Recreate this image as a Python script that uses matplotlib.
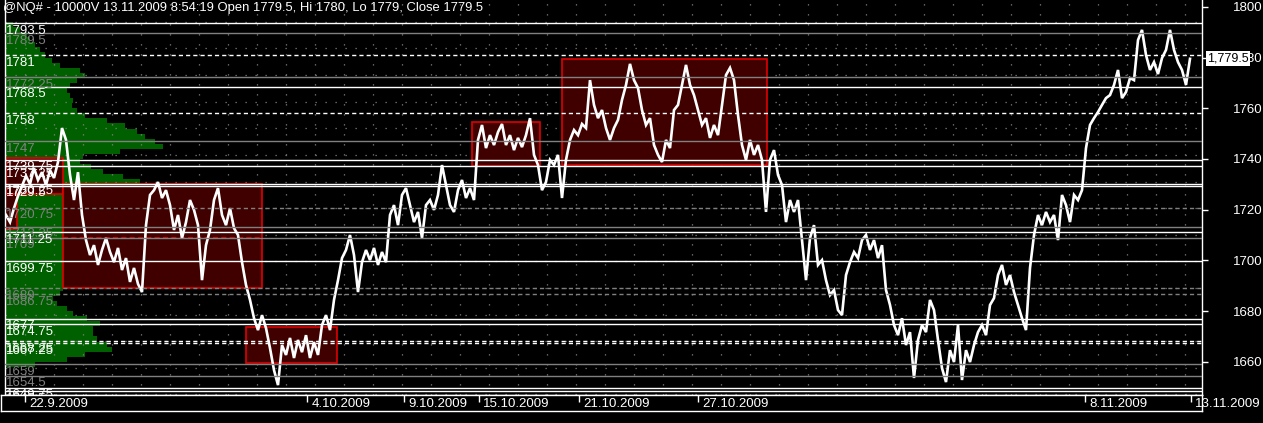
import numpy as np
import matplotlib
matplotlib.use("Agg")
import matplotlib.pyplot as plt
from matplotlib.patches import Rectangle

plt.rcParams['font.family'] = ['Liberation Sans', 'DejaVu Sans']

# --- data ---
title = "@NQ# - 10000V 13.11.2009 8:54:19 Open 1779.5, Hi 1780, Lo 1779, Close 1779.5"

# close of each 10000-volume bar (one value per bar)
close = [
    1717.9, 1715.1, 1720.6, 1725.4, 1729.3, 1733.3, 1730.1, 1736.4, 1731.7, 1734.8,
    1729.7, 1735.6, 1732.5, 1738.8, 1752.2, 1747.5, 1733.7, 1723.8, 1734.8, 1717.9,
    1708.0, 1702.1, 1706.0, 1698.2, 1704.1, 1708.8, 1703.3, 1699.3, 1704.9, 1696.2,
    1700.9, 1691.5, 1697.0, 1690.7, 1687.5, 1713.9, 1725.8, 1727.7, 1730.9, 1724.6,
    1727.7, 1721.8, 1712.0, 1717.9, 1708.8, 1715.1, 1723.8, 1719.9, 1713.9, 1692.2,
    1706.0, 1712.0, 1723.8, 1728.5, 1717.9, 1713.9, 1720.6, 1712.7, 1710.0, 1699.3,
    1690.3, 1684.4, 1677.2, 1672.5, 1678.4, 1673.3, 1665.4, 1656.7, 1650.8, 1666.6,
    1662.7, 1669.4, 1661.5, 1668.6, 1663.8, 1670.5, 1661.5, 1667.8, 1662.7, 1674.5,
    1678.4, 1672.5, 1684.4, 1692.2, 1700.9, 1704.1, 1710.0, 1702.1, 1687.5, 1699.3,
    1704.1, 1700.1, 1704.9, 1698.2, 1703.3, 1699.3, 1717.9, 1721.8, 1713.9, 1725.8,
    1728.5, 1721.8, 1715.1, 1719.1, 1708.8, 1721.8, 1723.8, 1719.9, 1725.8, 1737.6,
    1729.7, 1721.8, 1719.1, 1727.7, 1731.7, 1724.6, 1728.5, 1723.8, 1747.5, 1753.4,
    1744.3, 1749.4, 1745.5, 1750.6, 1753.8, 1745.5, 1749.4, 1743.5, 1748.3, 1744.7,
    1749.4, 1756.1, 1741.6, 1737.6, 1727.7, 1730.9, 1739.6, 1737.6, 1741.6, 1724.6,
    1739.6, 1747.5, 1751.4, 1749.4, 1753.8, 1752.2, 1771.1, 1761.3, 1756.1, 1759.3,
    1752.2, 1747.5, 1752.2, 1755.4, 1763.3, 1769.2, 1777.5, 1771.1, 1768.0, 1759.3,
    1753.4, 1756.1, 1745.5, 1741.6, 1738.8, 1747.5, 1744.3, 1759.3, 1761.3, 1769.2,
    1777.1, 1769.2, 1765.2, 1759.3, 1753.4, 1756.1, 1748.3, 1753.4, 1749.4, 1761.3,
    1773.1, 1775.9, 1771.1, 1757.3, 1745.5, 1739.6, 1747.5, 1741.6, 1745.5, 1739.6,
    1719.1, 1739.6, 1743.5, 1733.7, 1729.7, 1715.1, 1723.8, 1719.1, 1723.8, 1708.0,
    1692.2, 1708.8, 1713.9, 1698.2, 1700.1, 1692.2, 1686.3, 1688.3, 1680.4, 1678.4,
    1694.2, 1699.3, 1703.3, 1700.9, 1708.0, 1710.0, 1704.1, 1708.0, 1700.9, 1706.0,
    1688.3, 1682.4, 1674.5, 1670.5, 1677.2, 1666.6, 1671.7, 1653.6, 1668.6, 1674.5,
    1671.7, 1684.4, 1680.4, 1668.6, 1657.5, 1652.0, 1664.6, 1659.9, 1674.5, 1652.8,
    1664.6, 1659.9, 1666.6, 1671.7, 1674.5, 1670.5, 1682.4, 1685.1, 1694.2, 1698.2,
    1690.3, 1694.2, 1687.5, 1682.4, 1677.2, 1672.5, 1697.0, 1710.0, 1717.9, 1713.9,
    1719.1, 1715.1, 1717.9, 1708.0, 1725.8, 1721.8, 1715.1, 1725.8, 1723.8, 1727.7,
    1744.3, 1753.4, 1756.1, 1758.5, 1761.3, 1764.0, 1765.2, 1769.2, 1775.1, 1764.0,
    1766.4, 1771.9, 1771.1, 1786.9, 1790.9, 1781.0, 1775.1, 1778.2, 1773.5, 1779.8,
    1783.0, 1790.9, 1783.0, 1778.2, 1775.1, 1769.2, 1779.5,
]
last_price = 1779.5

# volume profile (price level -> relative volume)
profile_price = [
    1793, 1791, 1789, 1787, 1785, 1783, 1781, 1779, 1777, 1775, 1773, 1771, 1769, 1767,
    1765, 1763, 1761, 1759, 1757, 1755, 1753, 1751, 1749, 1747, 1745, 1743, 1741, 1739,
    1737, 1735, 1733, 1731, 1729, 1727, 1725, 1723, 1721, 1719, 1717, 1715, 1713, 1711,
    1709, 1707, 1705, 1703, 1701, 1699, 1697, 1695, 1693, 1691, 1689, 1687, 1685, 1683,
    1681, 1679, 1677, 1675, 1673, 1671, 1669, 1667, 1665, 1663, 1661, 1659,
]
profile_vol = [
    8, 15, 22, 25, 30, 35, 40, 47, 55, 75, 80, 72, 65, 62,
    65, 68, 67, 72, 80, 102, 120, 132, 140, 150, 158, 115, 78, 75,
    86, 98, 118, 135, 150, 165, 180, 190, 200, 215, 225, 230, 235, 240,
    235, 225, 220, 210, 205, 195, 185, 170, 150, 110, 58, 55, 48, 52,
    62, 68, 82, 95, 88, 88, 92, 102, 107, 80, 62, 30,
]

# value-area boxes: bar start, bar end, low, high
box_start = [-1.5, 0, 14.3, 60, 116.4, 138.9]
box_end = [2.8, 14.3, 63.9, 82.8, 133.5, 190.2]
box_low = [1712.2, 1726.0, 1689.3, 1659.4, 1737.3, 1737.6]
box_high = [1730.4, 1740.5, 1730.0, 1673.9, 1754.4, 1779.3]
poc_price = 1708.75   # dashed red line inside the wide box

# horizontal levels
level_price = [1793.5, 1789.5, 1781, 1772.25, 1768.5, 1758, 1747, 1739.75, 1737.25,
               1730.25, 1729.5, 1720.75, 1713.25, 1711.25, 1709, 1699.75, 1689, 1686.75,
               1677, 1674.75, 1668.25, 1667.25, 1659, 1654.5, 1649.75, 1648.5]
level_color = ['w', 'g', 'w', 'g', 'w', 'w', 'g', 'w', 'w',
               'w', 'w', 'g', 'g', 'w', 'g', 'w', 'g', 'g',
               'w', 'w', 'w', 'w', 'g', 'g', 'w', 'w']
level_dashed = [0, 0, 1, 0, 0, 1, 0, 0, 0,
                0, 0, 1, 0, 0, 0, 0, 1, 1,
                0, 0, 1, 1, 0, 0, 0, 0]

date_labels = ["22.9.2009", "4.10.2009", "9.10.2009", "15.10.2009",
               "21.10.2009", "27.10.2009", "8.11.2009", "13.11.2009"]
date_bar = [4.75, 75.25, 99.5, 118.25, 143.25, 173, 269.75, 296.25]

price_ticks = [1660, 1680, 1700, 1720, 1740, 1760, 1780, 1800]

# --- figure ---
W, H = 1263, 423
fig = plt.figure(figsize=(W / 100, H / 100), dpi=100, facecolor='black')
ax = fig.add_axes([5 / W, 28 / H, 1197 / W, 395 / H])
ax.set_xlim(-0.25, 299)
ax.set_ylim(1646.9, 1802.7)

GREY = '#808080'
WHITE = '#ffffff'

# volume profile in a twin axes placed underneath
axp = ax.twiny()
axp.set_zorder(ax.get_zorder() - 1)
ax.patch.set_visible(False)
axp.patch.set_facecolor('black')
axp.set_xlim(0, 1197)
axp.barh(profile_price, profile_vol, height=2, left=0, color='#006000', linewidth=0)
axp.set_xticks([])
for s in axp.spines.values():
    s.set_visible(False)

# dotted grid
for xg in np.arange(4.75, 299, 7.25):
    ax.axvline(xg, color=GREY, lw=0.9, ls=(0, (1, 7)), zorder=1)
for yg in np.arange(1794.1, 1646, -10.5):
    ax.axhline(yg, color=GREY, lw=0.9, ls=(0, (1, 7)), zorder=1)

# boxes
for x0, x1, lo, hi in zip(box_start, box_end, box_low, box_high):
    ax.add_patch(Rectangle((x0, lo), x1 - x0, hi - lo, facecolor='#400000',
                           edgecolor='#e00000', lw=1.2, zorder=2))
ax.hlines(poc_price, box_start[2], box_end[2], colors='#e00000', lw=1.2,
          linestyles=(0, (3, 2)), zorder=2.5)

# price
ax.plot(range(len(close)), close, color='white', lw=1.9, zorder=3,
        solid_joinstyle='miter')

# levels + labels
for p, c, d in zip(level_price, level_color, level_dashed):
    col = WHITE if c == 'w' else GREY
    ax.axhline(p, color=col, lw=1.0, ls=(0, (3, 2.2)) if d else '-', zorder=4)
    ax.annotate(f"{p:g}", xy=(0, p), xycoords=('axes fraction', 'data'),
                xytext=(0.5, -1.2), textcoords='offset points', ha='left', va='top',
                color=col, fontsize=9.5, zorder=5, annotation_clip=True, clip_on=True)

# title
fig.text(3 / W, 1 - 1.5 / H, title, color='white', fontsize=9.4, ha='left', va='top')

# axes styling
for side in ['left', 'right', 'bottom']:
    ax.spines[side].set_color('white')
    ax.spines[side].set_linewidth(1.0)
ax.spines['top'].set_visible(False)
ax.set_xticks([])
ax.yaxis.tick_right()
ax.set_yticks(price_ticks)
ax.tick_params(axis='y', colors='white', labelcolor='white', length=4, width=1,
               pad=18.5, labelsize=9.5)

# last price tag
ax.annotate("1,779.5", xy=(1, last_price), xycoords=('axes fraction', 'data'),
            xytext=(3.8, 0), textcoords='offset points', ha='left', va='center',
            color='black', fontsize=9, annotation_clip=False, zorder=6,
            bbox=dict(boxstyle='square,pad=0.12', fc='white', ec='none'))

# date panel
axd = fig.add_axes([1 / W, 12 / H, 1201 / W, 16 / H], facecolor='black')
axd.set_xlim(-1.25, 299)
axd.set_ylim(0, 1)
axd.set_xticks([])
axd.set_yticks([])
for s in axd.spines.values():
    s.set_color('white')
    s.set_linewidth(1.0)
axd.vlines(date_bar, 0.56, 0.97, colors='white', lw=1)
for xb, lab in zip(date_bar, date_labels):
    axd.text(xb + 1.1, 0.42, lab, color='white', fontsize=9.5, ha='left', va='center',
             clip_on=False)

fig.savefig("out.png", dpi=100, facecolor='black')
